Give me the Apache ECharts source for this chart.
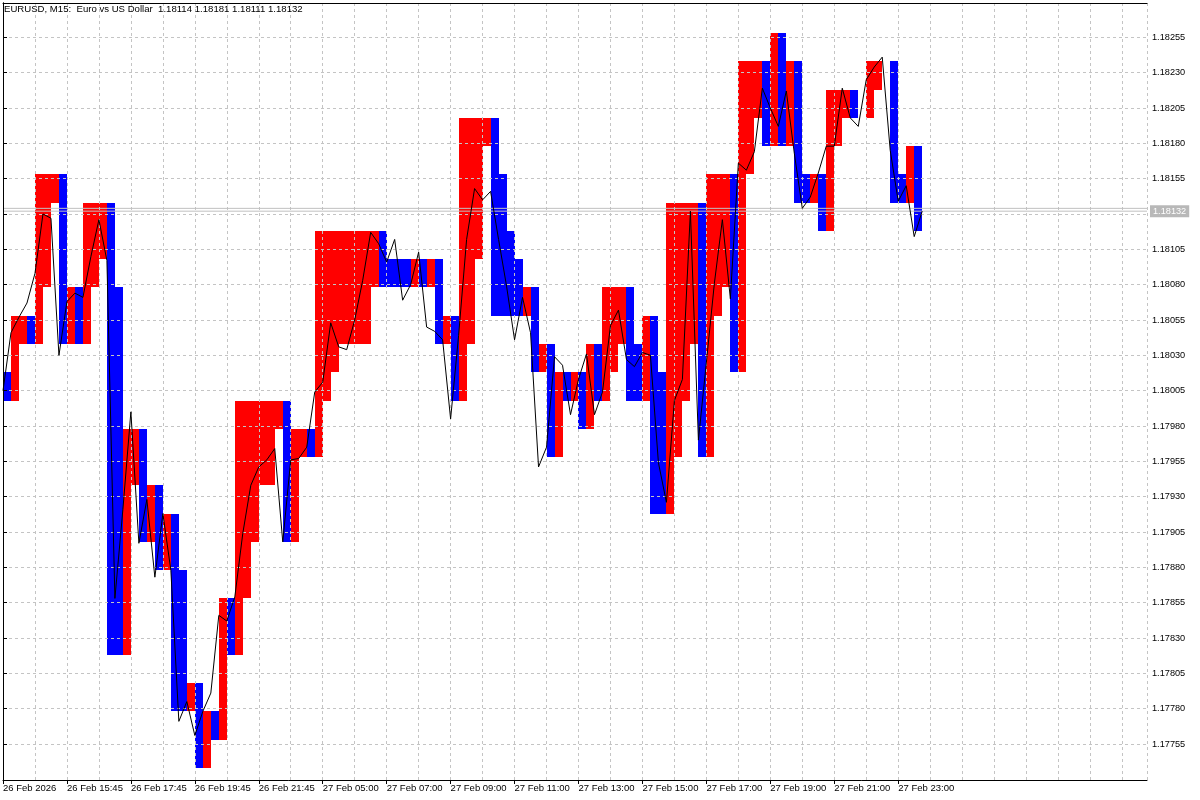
<!DOCTYPE html>
<html><head><meta charset="utf-8">
<script src="https://cdn.jsdelivr.net/npm/echarts@6/dist/echarts.min.js"></script>
<style>html,body{margin:0;padding:0;background:#fff}#c{width:1200px;height:800px}</style>
</head><body><div id="c"></div>
<script>
const titleText = 'EURUSD, M15:  Euro vs US Dollar  1.18114 1.18181 1.18111 1.18132';
const timeLabels = ['26 Feb 2026','26 Feb 15:45','26 Feb 17:45','26 Feb 19:45','26 Feb 21:45',
  '27 Feb 05:00','27 Feb 07:00','27 Feb 09:00','27 Feb 11:00','27 Feb 13:00','27 Feb 15:00',
  '27 Feb 17:00','27 Feb 19:00','27 Feb 21:00','27 Feb 23:00'];
const yTicks = [1.17755,1.17780,1.17805,1.17830,1.17855,1.17880,1.17905,1.17930,1.17955,1.17980,
  1.18005,1.18030,1.18055,1.18080,1.18105,1.18130,1.18155,1.18180,1.18205,1.18230,1.18255];
// close price of each M15 bar (black line)
const closes = [1.18005,1.18046,1.18057,1.18067,1.18088,1.18130,1.18127,1.18030,1.18068,1.18074,
  1.18071,1.18100,1.18126,1.18097,1.17858,1.17921,1.17990,1.17897,1.17928,1.17873,
  1.17918,1.17878,1.17771,1.17785,1.17761,1.17778,1.17791,1.17846,1.17842,1.17859,
  1.17904,1.17938,1.17951,1.17956,1.17964,1.17898,1.17956,1.17957,1.17965,1.18004,
  1.18011,1.18053,1.18036,1.18034,1.18055,1.18083,1.18117,1.18109,1.18096,1.18112,
  1.18069,1.18080,1.18103,1.18050,1.18047,1.18041,1.17985,1.18044,1.18112,1.18148,
  1.18140,1.18146,1.18112,1.18079,1.18041,1.18071,1.18046,1.17951,1.17965,1.18029,
  1.18023,1.17988,1.18013,1.18031,1.17988,1.18004,1.18051,1.18062,1.18027,1.18022,
  1.18032,1.18030,1.17954,1.17926,1.17998,1.18013,1.18132,1.17970,1.18025,1.18081,
  1.18126,1.18070,1.18166,1.18161,1.18174,1.18219,1.18205,1.18192,1.18217,1.18173,
  1.18134,1.18142,1.18159,1.18178,1.18178,1.18219,1.18198,1.18192,1.18225,1.18234,
  1.18241,1.18175,1.18139,1.18150,1.18114,1.18132];
// indicator histogram: lower and upper edge of each column, direction (1 = red, -1 = blue, 0 = empty)
const colLow = [1.17998,1.17998,1.18038,1.18038,1.18038,1.18078,1.18138,1.18038,1.18038,1.18038,
  1.18038,1.18078,1.18098,1.17818,1.17818,1.17818,1.17938,1.17898,1.17898,1.17878,
  1.17878,1.17778,1.17778,1.17778,1.17738,1.17738,1.17758,1.17758,1.17818,1.17818,
  1.17858,1.17898,1.17938,1.17938,1.17978,1.17898,1.17898,1.17958,1.17958,1.17958,
  1.17998,1.18018,1.18038,1.18038,1.18038,1.18038,1.18078,1.18078,1.18078,1.18078,
  1.18078,1.18078,1.18078,1.18078,1.18038,1.18038,1.17998,1.17998,1.18038,1.18098,
  1.18178,1.18058,1.18058,1.18058,1.18058,1.18058,1.18018,1.18018,1.17958,1.17958,
  1.17998,1.17998,1.17978,1.17978,1.17998,1.17998,1.18018,1.18038,1.17998,1.17998,
  1.17998,1.17918,1.17918,1.17918,1.17958,1.17998,1.18038,1.17958,1.17958,1.18058,
  1.18078,1.18018,1.18018,1.18158,1.18198,1.18178,1.18178,1.18178,1.18178,1.18138,
  1.18138,1.18138,1.18118,1.18118,1.18178,1.18198,1.18198,null,1.18198,1.18218,
  null,1.18138,1.18138,1.18138,1.18118];
const colHigh = [1.18018,1.18058,1.18058,1.18058,1.18158,1.18158,1.18158,1.18158,1.18078,1.18078,
  1.18138,1.18138,1.18138,1.18138,1.18078,1.17978,1.17978,1.17978,1.17938,1.17938,
  1.17918,1.17918,1.17878,1.17798,1.17798,1.17778,1.17778,1.17858,1.17858,1.17998,
  1.17998,1.17998,1.17998,1.17998,1.17998,1.17998,1.17978,1.17978,1.17978,1.18118,
  1.18118,1.18118,1.18118,1.18118,1.18118,1.18118,1.18118,1.18118,1.18098,1.18098,
  1.18098,1.18098,1.18098,1.18098,1.18098,1.18058,1.18058,1.18198,1.18198,1.18198,
  1.18198,1.18198,1.18158,1.18118,1.18098,1.18078,1.18078,1.18038,1.18038,1.18018,
  1.18018,1.18018,1.18018,1.18038,1.18038,1.18078,1.18078,1.18078,1.18078,1.18038,
  1.18058,1.18058,1.18018,1.18138,1.18138,1.18138,1.18138,1.18138,1.18158,1.18158,
  1.18158,1.18158,1.18238,1.18238,1.18238,1.18238,1.18258,1.18258,1.18238,1.18238,
  1.18158,1.18158,1.18158,1.18218,1.18218,1.18218,1.18218,null,1.18238,1.18238,
  null,1.18238,1.18158,1.18178,1.18178];
const colDir = [-1,1,1,-1,1,1,1,-1,1,-1, 1,1,1,-1,-1,1,1,-1,1,-1,
  1,-1,-1,1,-1,1,-1,1,-1,1, 1,1,1,1,1,-1,1,1,-1,1,
  1,1,1,1,1,1,1,-1,-1,-1, -1,1,-1,1,-1,1,-1,1,1,1,
  1,-1,-1,-1,-1,1,-1,1,-1,1, -1,1,-1,1,-1,1,1,1,-1,-1,
  1,-1,-1,1,1,1,1,-1,1,1, 1,-1,1,1,1,-1,1,-1,1,-1,
  -1,1,-1,1,1,1,-1,0,1,1, 0,-1,-1,1,-1];
const bidPrice = 1.18132, askPrice = 1.18134;

const FONT = "'Liberation Sans', Arial, sans-serif";
const X_MAX = 143.125;
const Y_MIN = 1.177295, Y_MAX = 1.182793;
const labelVals = timeLabels.map((t, i) => i * 8);
const GRID = { show: true, lineStyle: { color: '#c4c4c4', type: [3, 3], width: 1 } };

const colData = [];
colLow.forEach((lo, i) => { if (lo != null && colHigh[i] != null) colData.push([i, lo, colHigh[i], colDir[i]]); });

const chart = echarts.init(document.getElementById('c'), null, { renderer: 'canvas' });
chart.setOption({
  animation: false,
  backgroundColor: '#ffffff',
  title: { text: titleText, left: 4, top: 4, padding: 0,
    textStyle: { fontSize: 9.6, fontWeight: 'normal', color: '#000', fontFamily: FONT } },
  grid: { left: 2, right: 53, top: 3, bottom: 20, containLabel: false },
  xAxis: [
    { type: 'value', position: 'bottom', min: 0, max: X_MAX, z: 5,
      axisLine: { show: true, lineStyle: { color: '#000', width: 1 } },
      axisTick: { show: true, customValues: labelVals, length: 4, lineStyle: { color: '#000' } },
      axisLabel: { show: true, customValues: labelVals, align: 'left', margin: 3,
        color: '#000', fontSize: 9.5, fontFamily: FONT,
        formatter: v => timeLabels[Math.round(v / 8)] || '' },
      splitLine: { show: false } },
    { type: 'value', position: 'top', min: 0, max: X_MAX, interval: 4, z: 3,
      axisLine: { show: true, lineStyle: { color: '#000', width: 1 } },
      axisTick: { show: false }, axisLabel: { show: false },
      splitLine: GRID }
  ],
  yAxis: [
    { type: 'value', position: 'right', min: Y_MIN, max: Y_MAX, scale: true, z: 3,
      axisLine: { show: true, lineStyle: { color: '#000', width: 1 } },
      axisTick: { show: true, customValues: yTicks, length: 4, lineStyle: { color: '#000' } },
      axisLabel: { show: true, customValues: yTicks, margin: 5, color: '#000', fontSize: 9.2,
        fontFamily: FONT, formatter: v => v.toFixed(5) },
      splitLine: GRID },
    { type: 'value', position: 'left', min: Y_MIN, max: Y_MAX, scale: true, z: 5,
      axisLine: { show: true, lineStyle: { color: '#000', width: 1 } },
      axisTick: { show: false }, axisLabel: { show: false }, splitLine: { show: false } }
  ],
  series: [
    { type: 'custom', xAxisIndex: 0, yAxisIndex: 0, data: colData, z: 2,
      encode: { x: 0, y: [1, 2] },
      renderItem: function (params, api) {
        const i = api.value(0), lo = api.value(1), hi = api.value(2), d = api.value(3);
        const p1 = api.coord([i, hi]);
        const p2 = api.coord([i + 1, lo]);
        const x0 = Math.round(p1[0]), x1 = Math.round(p2[0]);
        const y0 = Math.round(p1[1]), y1 = Math.round(p2[1]);
        return { type: 'rect',
          shape: { x: x0, y: y0, width: x1 - x0, height: y1 - y0 },
          style: { fill: d > 0 ? '#ff0000' : '#0000ff' } };
      } },
    { type: 'line', xAxisIndex: 0, yAxisIndex: 0, z: 4, silent: true,
      data: [[0, askPrice], [X_MAX, askPrice]], showSymbol: false, symbol: 'none',
      lineStyle: { color: '#c0c0c0', width: 1 } },
    { type: 'line', xAxisIndex: 0, yAxisIndex: 0, z: 4, silent: true,
      data: [[0, bidPrice], [X_MAX, bidPrice]], showSymbol: false, symbol: 'none',
      lineStyle: { color: '#c0c0c0', width: 1 },
      endLabel: { show: true, distance: 3, formatter: bidPrice.toFixed(5), color: '#ffffff',
        backgroundColor: '#b8b8b8', padding: [2, 3, 1, 3], fontSize: 9.2, fontFamily: FONT } },
    { type: 'line', xAxisIndex: 0, yAxisIndex: 0, z: 4,
      data: closes.map((v, i) => [i, v]),
      showSymbol: false, symbol: 'none',
      lineStyle: { color: '#000', width: 1 } }
  ]
});
</script></body></html>
